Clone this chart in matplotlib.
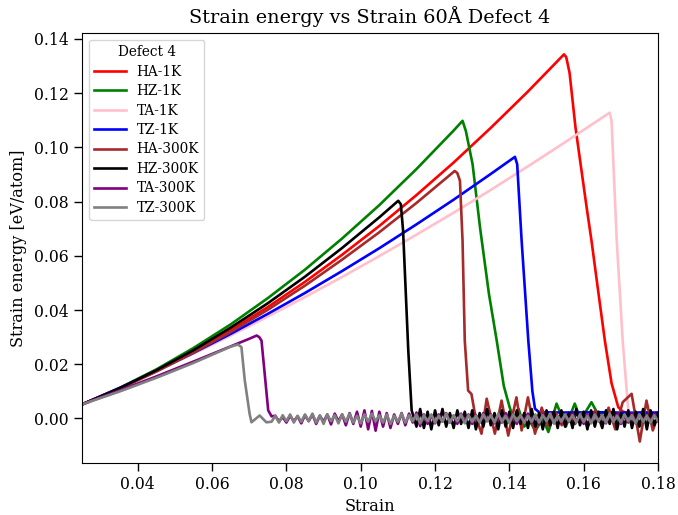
import numpy as np
import matplotlib
matplotlib.use("Agg")
import matplotlib.pyplot as plt

plt.rcParams['font.family'] = ['DejaVu Serif']

# ---------------- data (strain, energy in eV/atom) ----------------
labels = ["HA-1K", "HZ-1K", "TA-1K", "TZ-1K", "HA-300K", "HZ-300K", "TA-300K", "TZ-300K"]
colors = ["red", "green", "pink", "blue", "brown", "black", "purple", "grey"]

# HA-1K
ha1k_x = [0.025, 0.035, 0.045, 0.055, 0.065, 0.075, 0.085, 0.095, 0.105, 0.115, 0.125, 0.135, 0.145,
          0.1547, 0.1553, 0.1562, 0.1578, 0.1608, 0.1621, 0.1640, 0.1657, 0.1675, 0.1693, 0.1705, 0.1730,
          0.1760, 0.1790, 0.1800]
ha1k_y = [0.0052, 0.0110, 0.0175, 0.0247, 0.0326, 0.0411, 0.0504, 0.0604, 0.0710, 0.0824, 0.0944, 0.1072, 0.1206,
          0.1343, 0.1333, 0.1275, 0.1073, 0.0778, 0.0656, 0.0460, 0.0287, 0.0130, 0.0042, 0.0025, 0.0018,
          0.0024, 0.0017, 0.0021]

# HZ-1K
hz1k_x = [0.025, 0.035, 0.045, 0.055, 0.065, 0.075, 0.085, 0.095, 0.105, 0.115, 0.125,
          0.1274, 0.1283, 0.1301, 0.1321, 0.1345, 0.1366, 0.1385, 0.1401,
          0.1412, 0.1425, 0.1440, 0.1455, 0.1470, 0.1490, 0.1505, 0.1527, 0.1552, 0.1576,
          0.1592, 0.1621, 0.1636, 0.1660, 0.1700, 0.1750, 0.1800]
hz1k_y = [0.0052, 0.0112, 0.0181, 0.0260, 0.0347, 0.0444, 0.0549, 0.0664, 0.0787, 0.0920, 0.1062,
          0.1098, 0.1060, 0.0938, 0.0705, 0.0460, 0.0287, 0.0120, 0.0040,
          0.0000, 0.0035, -0.0030, -0.0010, -0.0045, 0.0000, -0.0050, 0.0055, -0.0030, 0.0055,
          -0.0005, 0.0060, 0.0022, 0.0020, 0.0018, 0.0020, 0.0020]

# TA-1K
ta1k_x = [0.025, 0.035, 0.045, 0.055, 0.065, 0.075, 0.085, 0.095, 0.105, 0.115, 0.125, 0.135, 0.145, 0.155,
          0.1670, 0.1675, 0.1689, 0.1705, 0.1720, 0.1730, 0.1760, 0.1800]
ta1k_y = [0.0052, 0.0112, 0.0175, 0.0239, 0.0306, 0.0376, 0.0448, 0.0522, 0.0599, 0.0678, 0.0759, 0.0843, 0.0930, 0.1019,
          0.1128, 0.1098, 0.0656, 0.0287, 0.0030, 0.0015, 0.0018, 0.0015]

# TZ-1K
tz1k_x = [0.025, 0.035, 0.045, 0.055, 0.065, 0.075, 0.085, 0.095, 0.105, 0.115, 0.125, 0.135,
          0.1415, 0.1421, 0.1433, 0.1451, 0.1462, 0.1469, 0.1480, 0.1550, 0.1650, 0.1720, 0.1800]
tz1k_y = [0.0052, 0.0112, 0.0175, 0.0242, 0.0312, 0.0386, 0.0463, 0.0544, 0.0628, 0.0716, 0.0807, 0.0902,
          0.0965, 0.0938, 0.0656, 0.0287, 0.0100, 0.0036, 0.0023, 0.0022, 0.0023, 0.0021, 0.0022]

# HA-300K
ha300_x = [0.025, 0.035, 0.045, 0.055, 0.065, 0.075, 0.085, 0.095, 0.105, 0.115,
           0.1253, 0.1260, 0.1267, 0.1274, 0.1280, 0.1289, 0.1298, 0.1307,
           0.1325, 0.1339, 0.1361, 0.1379, 0.1397, 0.1419, 0.1433, 0.1450, 0.1469, 0.1487,
           0.1505, 0.1523, 0.1541, 0.1559, 0.1577, 0.1595, 0.1613, 0.1631, 0.1649, 0.1667,
           0.1685, 0.1705, 0.1729, 0.1751, 0.1769, 0.1786, 0.1800]
ha300_y = [0.0052, 0.0109, 0.0173, 0.0243, 0.0319, 0.0401, 0.0490, 0.0586, 0.0687, 0.0795,
           0.0913, 0.0905, 0.0877, 0.0656, 0.0287, 0.0103, 0.0090, 0.0020,
           -0.0056, 0.0073, -0.0056, 0.0066, -0.0063, 0.0078, -0.0044, 0.0078, -0.0056, 0.0040,
           -0.0030, 0.0025, -0.0025, 0.0020, -0.0020, 0.0020, -0.0025, 0.0030, -0.0030, 0.0040,
           -0.0040, 0.0060, 0.0091, -0.0085, 0.0066, -0.0044, 0.0010]

# HZ-300K (rise + drop, then oscillation sampled every 0.001 from 0.115)
hz300_x = [0.025, 0.035, 0.045, 0.055, 0.065, 0.075, 0.085, 0.095, 0.105,
           0.1101, 0.1108, 0.1114, 0.1128, 0.1137]
hz300_y = [0.0052, 0.0111, 0.0178, 0.0252, 0.0335, 0.0425, 0.0523, 0.0629, 0.0742,
           0.0803, 0.0790, 0.0692, 0.0250, 0.0030]
hz300_osc_start = 0.115
hz300_osc_meV = [-3.0, 3.5, -3.5, 2.5, -4.0, 3.0, -2.5, 3.5, -3.0,
                 2.0, -3.5, 3.0, -2.0, 2.5, -3.5, 3.0, -4.0, 2.0, -3.0,
                 3.5, -2.5, 2.0, -4.0, 3.0, -3.0, 2.5, -3.5, 3.0, -2.0,
                 2.0, -3.5, 3.5, -3.0, 2.0, -4.0, 3.0, -2.5, 2.5, -3.5,
                 3.0, -3.0, 2.0, -3.5, 3.5, -2.5, 2.5, -4.0, 3.0, -3.0,
                 2.5, -3.5, 3.0, -2.0, 3.5, -4.0, 2.0, -3.0, 3.0, -3.5,
                 2.5, -3.0, 3.5, -4.0, 3.0, -2.5, 2.0]

# TA-300K
ta300_x = [0.025, 0.035, 0.045, 0.055, 0.065, 0.0700, 0.0720, 0.0727, 0.0733, 0.0751, 0.0760]
ta300_y = [0.0052, 0.0103, 0.0155, 0.0210, 0.0266, 0.0294, 0.0306, 0.0300, 0.0287, 0.0030, 0.0008]
ta300_osc_start = 0.077
ta300_osc_meV = [1.0, -1.0, 0.5, -1.5, 1.0, -1.0, 0.8, -1.8, 1.2, -1.0,
                 1.5, -2.0, 1.0, -1.2, 1.5, -2.2, 1.8, -1.0, 1.5, -2.5,
                 2.0, -2.0, 2.5, -3.0, 3.0, -4.0, 2.8, -4.5, 2.5, -3.0,
                 2.0, -3.5, 1.5, -2.0, 2.0, -2.5, 1.8, -1.5, 2.2, -2.8,
                 1.5, -2.0, 1.2, -1.8, 1.5, -1.2, 2.0, -1.5, 1.0, -2.0,
                 1.8, -1.0, 1.5, -2.0, 1.2, -1.5, 2.0, -1.0, 1.5, -1.8,
                 1.0, -1.5, 2.0, -1.2, 1.5, -2.0, 1.0, -1.0, 1.8, -1.5,
                 1.2, -2.0, 1.5, -1.0, 2.0, -1.8, 1.0, -1.5, 1.5, -1.2,
                 1.8, -1.0, 1.2, -2.0, 1.5, -1.5, 2.0, -1.0, 1.2, -1.8,
                 1.5, -1.2, 1.8, -2.0, 1.0, -1.5, 2.0, -1.8, 1.5, -1.0,
                 1.2, -1.5, 1.8, -1.0]

# TZ-300K
tz300_x = [0.025, 0.035, 0.045, 0.055, 0.065, 0.0670, 0.0679, 0.0688, 0.0701, 0.0706, 0.0728, 0.0746]
tz300_y = [0.0052, 0.0099, 0.0150, 0.0205, 0.0265, 0.0273, 0.0263, 0.0140, 0.0017, -0.0014, 0.0011, -0.0014]
tz300_osc_start = 0.076
tz300_osc_meV = [-1.2, 1.0, -1.5, 1.2, -1.0, 1.5, -1.5, 1.0, -1.2, 1.5,
                 -1.0, 1.8, -1.5, 1.2, -2.0, 1.5, -1.0, 1.2, -1.8, 1.5,
                 -1.2, 1.8, -1.5, 1.0, -1.8, 1.5, -1.2, 1.8, -1.0, 1.2,
                 -1.5, 1.5, -2.0, 1.0, -1.2, 1.8, -1.5, 1.2, -1.0, 1.5,
                 -1.8, 1.2, -1.0, 1.5, -1.5, 1.0, -1.2, 1.8, -1.5, 1.2,
                 -1.0, 1.5, -1.8, 1.2, -1.2, 1.0, -1.5, 1.5, -1.0, 1.2,
                 -1.5, 1.8, -1.2, 1.0, -1.8, 1.5, -1.0, 1.2, -1.5, 1.0,
                 -1.2, 1.5, -1.5, 1.2, -1.0, 1.8, -1.8, 1.0, -1.2, 1.5,
                 -1.0, 1.2, -1.5, 1.5, -1.2, 1.0, -1.8, 1.5, -1.0, 1.2,
                 -1.5, 1.8, -1.2, 1.0, -1.5, 1.5, -1.0, 1.2, -1.8, 1.5,
                 -1.2, 1.0, -1.5, 1.2, -1.0]

OSC_STEP = 0.001  # strain sampling of the post-fracture oscillation


def with_osc(xs, ys, start, vals_meV):
    ox = start + OSC_STEP * np.arange(len(vals_meV))
    oy = np.asarray(vals_meV) / 1000.0
    return np.concatenate([xs, ox]), np.concatenate([ys, oy])


series = [
    (np.array(ha1k_x), np.array(ha1k_y)),
    (np.array(hz1k_x), np.array(hz1k_y)),
    (np.array(ta1k_x), np.array(ta1k_y)),
    (np.array(tz1k_x), np.array(tz1k_y)),
    (np.array(ha300_x), np.array(ha300_y)),
    with_osc(hz300_x, hz300_y, hz300_osc_start, hz300_osc_meV),
    with_osc(ta300_x, ta300_y, ta300_osc_start, ta300_osc_meV),
    with_osc(tz300_x, tz300_y, tz300_osc_start, tz300_osc_meV),
]

# ---------------- plot ----------------
fig = plt.figure(figsize=(6.78, 5.15), dpi=100)
ax = fig.add_axes([0.121, 0.1016, 0.8495, 0.8344])

for (x, y), lab, col in zip(series, labels, colors):
    ax.plot(x, y, color=col, lw=1.9, label=lab)

ax.set_xlim(0.025, 0.18)
ax.set_ylim(-0.0163, 0.1422)
ax.set_xticks([0.04, 0.06, 0.08, 0.10, 0.12, 0.14, 0.16, 0.18])
ax.set_yticks([0.00, 0.02, 0.04, 0.06, 0.08, 0.10, 0.12, 0.14])
ax.xaxis.set_major_formatter(matplotlib.ticker.FormatStrFormatter('%.2f'))
ax.yaxis.set_major_formatter(matplotlib.ticker.FormatStrFormatter('%.2f'))
ax.tick_params(labelsize=11.3, length=5.5, width=1.0, pad=4)

ax.set_xlabel("Strain", fontsize=11.6, labelpad=4)
ax.set_ylabel("Strain energy [eV/atom]", fontsize=11.6, labelpad=5)
ax.set_title("Strain energy vs Strain 60Å Defect 4", fontsize=13.9, pad=7)

leg = ax.legend(title="Defect 4", loc="upper left", fontsize=9.8, title_fontsize=9.8,
                labelspacing=0.4, handlelength=2.3)

fig.savefig("out.png", dpi=100)
